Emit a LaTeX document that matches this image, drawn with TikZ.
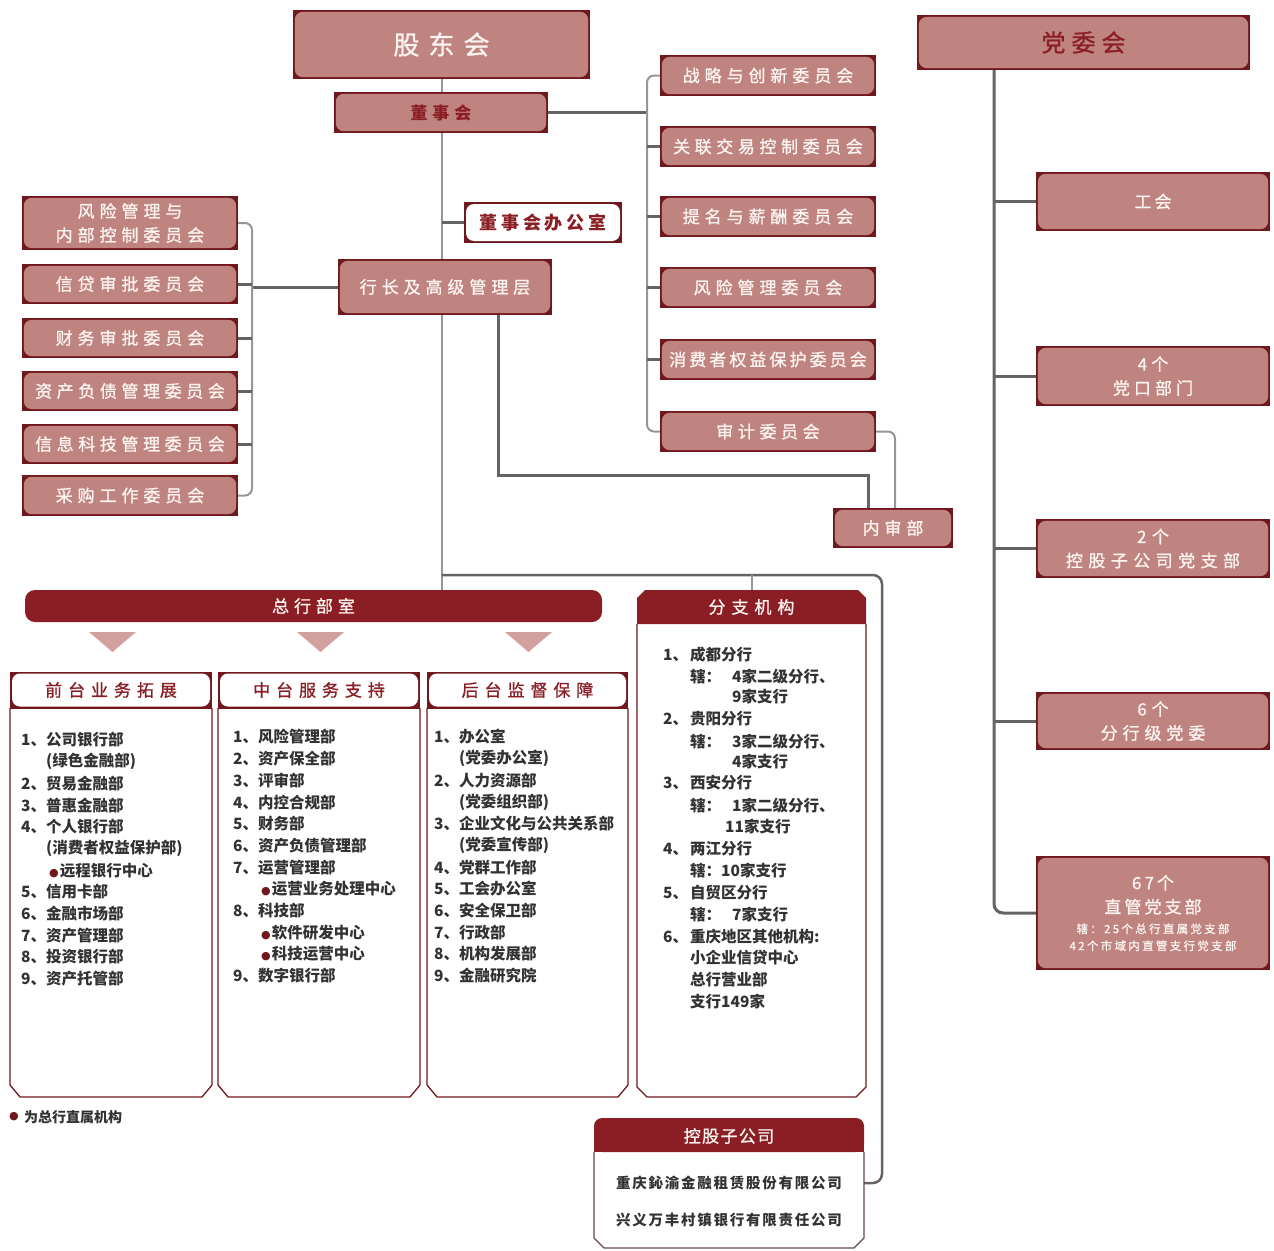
\documentclass[tikz,border=0pt]{standalone}
\usepackage{fontspec}
\setmainfont{Noto Sans CJK SC}
\newfontfamily\bxf{Noto Sans CJK SC}[FakeBold=1.0]
\newfontfamily\lsf{Noto Sans CJK SC}
\newfontfamily\dvf{DejaVu Sans}
\usetikzlibrary{calc}
\definecolor{rose}{RGB}{192,132,128}
\definecolor{dkc}{RGB}{112,24,30}
\definecolor{bar}{RGB}{138,30,36}
\definecolor{tri}{RGB}{210,160,158}
\definecolor{boxtxt}{RGB}{252,244,240}
\definecolor{lg}{RGB}{150,150,150}
\definecolor{dg}{RGB}{100,100,100}
\definecolor{lst}{RGB}{50,50,50}
\newcommand\LS[1]{\addfontfeature{LetterSpace=#1}}
\newlength\numw
\setlength\numw{25pt}
\newcommand\lnum[2]{\makebox[\numw][l]{#1}#2}
\newcommand\lsubl[1]{\hspace*{\numw}#1}
\newcommand\lbul[1]{\hspace*{\numw}\kern3pt{\color{dkc}\dvf\mdseries\fontsize{11}{11}\selectfont ●}\kern1pt #1}
\pgfdeclarelayer{back}
\pgfdeclarelayer{bg}
\pgfsetlayers{back,bg,main}
\tikzset{
  lnthin/.style={draw=lg, line width=2pt},
  lnthick/.style={draw=dg, line width=3pt},
  rosebox/.style={fill=dkc, inner sep=0pt, outer sep=0pt, text=boxtxt, align=center,
    font=\bxf\fontsize{17}{24}\selectfont,
    path picture={\fill[rose, rounded corners=8pt]
      ([xshift=1.8pt,yshift=-1.8pt]path picture bounding box.north west) rectangle
      ([xshift=-1.8pt,yshift=1.8pt]path picture bounding box.south east);}},
  whitebox/.style={fill=dkc, inner sep=0pt, outer sep=0pt, text=bar, align=center,
    font=\bxf\fontsize{17}{24}\selectfont,
    path picture={\fill[white, rounded corners=8pt]
      ([xshift=2pt,yshift=-2pt]path picture bounding box.north west) rectangle
      ([xshift=-2pt,yshift=2pt]path picture bounding box.south east);}},
  lsttxt/.style={anchor=west, inner sep=0pt, text=lst, font=\lsf\bfseries\fontsize{15.5}{18}\selectfont},
  hdtxt/.style={inner sep=0pt, outer sep=0pt, text=boxtxt, font=\bxf\fontsize{17}{24}\selectfont},
}
\begin{document}
\begin{tikzpicture}[x=1pt,y=-1pt]
\begin{pgfonlayer}{back}
\fill[white] (0,0) rectangle (1274,1250);
\end{pgfonlayer}
\useasboundingbox (0,0) rectangle (1274,1250);

% top
\node[rosebox, minimum width=297pt, minimum height=69pt, font=\bxf\fontsize{26}{30}\selectfont] (gd) at (441.5,44.5) {\LS{35}股东会};
\node[rosebox, minimum width=214pt, minimum height=41pt, text=bar, font=\lsf\bfseries\fontsize{17}{24}\selectfont] (ds) at (441,112.5) {\LS{29}董事会};
\node[rosebox, minimum width=333pt, minimum height=55pt, text=bar, font=\bxf\fontsize{24}{28}\selectfont] (dw) at (1083.5,42.5) {\LS{25}党委会};
\node[whitebox, minimum width=158pt, minimum height=41pt, font=\lsf\bfseries\fontsize{18}{24}\selectfont] (dsb) at (543,222.5) {\LS{22}董事会办公室};
\node[rosebox, minimum width=214pt, minimum height=56pt] (hz) at (445,287) {\LS{29}行长及高级管理层};

% right committees
\node[rosebox, minimum width=216pt, minimum height=41pt] (c1) at (768,75.5) {\LS{29}战略与创新委员会};
\node[rosebox, minimum width=216pt, minimum height=41pt] (c2) at (768,146.5) {\LS{27}关联交易控制委员会};
\node[rosebox, minimum width=216pt, minimum height=41pt] (c3) at (768,216.5) {\LS{29}提名与薪酬委员会};
\node[rosebox, minimum width=216pt, minimum height=41pt] (c4) at (768,287.5) {\LS{29}风险管理委员会};
\node[rosebox, minimum width=216pt, minimum height=41pt] (c5) at (768,359.5) {\LS{18}消费者权益保护委员会};
\node[rosebox, minimum width=216pt, minimum height=41pt] (c6) at (768,431.5) {\LS{27}审计委员会};
\node[rosebox, minimum width=120pt, minimum height=40pt] (nsb) at (893,528) {\LS{29}内审部};

% left committees
\node[rosebox, minimum width=216pt, minimum height=54pt] (L1) at (130,223) {\LS{29}风险管理与\\\LS{29}内部控制委员会};
\node[rosebox, minimum width=216pt, minimum height=40pt] (L2) at (130,284) {\LS{29}信贷审批委员会};
\node[rosebox, minimum width=216pt, minimum height=40pt] (L3) at (130,338) {\LS{29}财务审批委员会};
\node[rosebox, minimum width=216pt, minimum height=40pt] (L4) at (130,391) {\LS{27}资产负债管理委员会};
\node[rosebox, minimum width=216pt, minimum height=40pt] (L5) at (130,444) {\LS{27}信息科技管理委员会};
\node[rosebox, minimum width=216pt, minimum height=41pt] (L6) at (130,495.5) {\LS{29}采购工作委员会};

% party column
\node[rosebox, minimum width=234pt, minimum height=59pt] (p1) at (1153,201.5) {\LS{18}工会};
\node[rosebox, minimum width=234pt, minimum height=60pt] (p2) at (1153,376) {\LS{24}4个\\\LS{24}党口部门};
\node[rosebox, minimum width=234pt, minimum height=59pt] (p3) at (1153,548.5) {\LS{32}2个\\\LS{32}控股子公司党支部};
\node[rosebox, minimum width=234pt, minimum height=58pt] (p4) at (1153,721) {\LS{29}6个\\\LS{29}分行级党委};
\node[rosebox, minimum width=234pt, minimum height=114pt] (p5) at (1153,913) {\LS{18}67个\\\LS{18}直管党支部\\[-4pt]{\fontsize{11.5}{15}\selectfont\LS{20}辖：25个总行直属党支部}\\[-7pt]{\fontsize{11.5}{15}\selectfont\LS{20}42个市域内直管支行党支部}};

% head office bar
\node[fill=bar, rounded corners=10pt, minimum width=577pt, minimum height=32pt, inner sep=0pt, outer sep=0pt, text=boxtxt, font=\bxf\fontsize{17}{24}\selectfont] (zb) at (313.5,606) {\LS{29}总行部室};
\fill[tri] (89,632) -- (136,632) -- (112.5,652) -- cycle;
\fill[tri] (297,632) -- (344,632) -- (320.5,652) -- cycle;
\fill[tri] (505,632) -- (552,632) -- (528.5,652) -- cycle;

% columns
\foreach \xa/\xb in {10/212, 218/420, 427/628}{
  \draw[dkc, line width=1.3pt] (\xa,708) -- (\xa,1085) -- ({\xa+10},1097) -- ({\xb-10},1097) -- (\xb,1085) -- (\xb,708);
}
\node[whitebox, minimum width=202pt, minimum height=37pt] (h1) at (111,690) {\LS{35}前台业务拓展};
\node[whitebox, minimum width=202pt, minimum height=37pt] (h2) at (319,690) {\LS{35}中台服务支持};
\node[whitebox, minimum width=201pt, minimum height=37pt] (h3) at (527.5,690) {\LS{35}后台监督保障};

\foreach \t [count=\i] in {\lnum{1、}{公司银行部}, \lsubl{(绿色金融部)}, \lnum{2、}{贸易金融部},
  \lnum{3、}{普惠金融部}, \lnum{4、}{个人银行部}, \lsubl{(消费者权益保护部)}, \lbul{远程银行中心},
  \lnum{5、}{信用卡部}, \lnum{6、}{金融市场部}, \lnum{7、}{资产管理部}, \lnum{8、}{投资银行部},
  \lnum{9、}{资产托管部}}
  \node[lsttxt] (a\i) at (21,{740+21.7*(\i-1)}) {\t};
\foreach \t [count=\i] in {\lnum{1、}{风险管理部}, \lnum{2、}{资产保全部}, \lnum{3、}{评审部},
  \lnum{4、}{内控合规部}, \lnum{5、}{财务部}, \lnum{6、}{资产负债管理部}, \lnum{7、}{运营管理部},
  \lbul{运营业务处理中心}, \lnum{8、}{科技部}, \lbul{软件研发中心}, \lbul{科技运营中心},
  \lnum{9、}{数字银行部}}
  \node[lsttxt] (b\i) at (233,{737+21.7*(\i-1)}) {\t};
\foreach \t [count=\i] in {\lnum{1、}{办公室}, \lsubl{(党委办公室)}, \lnum{2、}{人力资源部},
  \lsubl{(党委组织部)}, \lnum{3、}{企业文化与公共关系部}, \lsubl{(党委宣传部)}, \lnum{4、}{党群工作部},
  \lnum{5、}{工会办公室}, \lnum{6、}{安全保卫部}, \lnum{7、}{行政部}, \lnum{8、}{机构发展部},
  \lnum{9、}{金融研究院}}
  \node[lsttxt] (d\i) at (434,{737+21.7*(\i-1)}) {\t};

% branches
\fill[bar] (637,624) -- (637,598) -- (645,590) -- (858,590) -- (866,598) -- (866,624) -- cycle;
\draw[dkc, line width=1.3pt] (637,624) -- (637,1087) -- (647,1097) -- (856,1097) -- (866,1087) -- (866,624);
\node[hdtxt, minimum width=229pt, minimum height=34pt] (fz) at (751.5,607) {\LS{35}分支机构};
\foreach \x/\y/\t [count=\i] in {663/655/1、, 690/655/成都分行, 690/677/辖：, 732/677/4家二级分行、,
  732/697/9家支行, 663/719/2、, 690/719/贵阳分行, 690/742/辖：, 732/742/3家二级分行、, 732/762/4家支行,
  663/783/3、, 690/783/西安分行, 690/806/辖：, 732/806/1家二级分行、, 725/827/11家支行,
  663/849/4、, 690/849/两江分行, 690/871/辖：10家支行, 663/893/5、, 690/893/自贸区分行,
  690/915/辖：, 732/915/7家支行, 663/937/6、, 690/937/重庆地区其他机构:, 690/958/小企业信贷中心,
  690/980/总行营业部, 690/1002/支行149家}
  \node[lsttxt] (f\i) at (\x,\y) {\t};

% subsidiaries
\fill[bar, rounded corners=8pt] (594,1118) rectangle (864,1152);
\fill[bar] (594,1136) rectangle (864,1152);
\draw[dg!60!dkc, line width=1.3pt] (594,1152) -- (594,1238) -- (604,1248) -- (854,1248) -- (864,1238) -- (864,1152);
\node[inner sep=0pt, outer sep=0pt, minimum width=270pt, minimum height=130pt] (kg) at (729,1183) {};
\node[hdtxt] (kgh) at (729,1136) {\LS{8}控股子公司};
\node[inner sep=0pt, text=lst, font=\lsf\bfseries\fontsize{14.5}{18}\selectfont] (kg1) at (729,1183) {\LS{12}重庆鈊渝金融租赁股份有限公司};
\node[inner sep=0pt, text=lst, font=\lsf\bfseries\fontsize{14.5}{18}\selectfont] (kg2) at (729,1220) {\LS{12}兴义万丰村镇银行有限责任公司};

% legend
\node[inner sep=0pt, text=dkc, font=\dvf\fontsize{11}{11}\selectfont] (lgd) at (14,1117) {●};
\node[lsttxt, font=\lsf\bfseries\fontsize{14}{18}\selectfont] (lgt) at (24,1117) {为总行直属机构};

% connectors
\coordinate (rbk) at (647,0);
\coordinate (lbk) at (252,0);
\coordinate (pv) at (994,0);
\begin{pgfonlayer}{bg}
\draw[lnthin] (gd.south) -- (gd.south |- zb.north);
\draw[lnthick] (gd.south |- dsb.west) -- (dsb.west);
\draw[lnthick] (ds.east) -- (ds.east -| rbk);
\draw[lnthin, rounded corners=7pt] (c1.west) -- (c1.west -| rbk) -- (c6.west -| rbk) -- (c6.west);
\foreach \n in {c2,c3,c4,c5} \draw[lnthick] (\n.west) -- (\n.west -| rbk);
\draw[lnthick] (hz.west) -- (hz.west -| lbk);
\draw[lnthin, rounded corners=7pt] (L1.east) -- (L1.east -| lbk) -- (L6.east -| lbk) -- (L6.east);
\foreach \n in {L2,L3,L4,L5} \draw[lnthick] (\n.east) -- (\n.east -| lbk);
\draw[lnthick] ([xshift=53pt]hz.south) -- ++(0,160) -| ([xshift=-25pt]nsb.north);
\draw[lnthin, rounded corners=7pt] (c6.east) -| ([xshift=2pt]nsb.north);
\draw[draw=dg, line width=2.5pt, rounded corners=9pt] ([yshift=15pt]gd.south |- zb.north) -| ($(kg.east)+(18,0)$) -- (kg.east);
\draw[lnthin] (fz.north) -- ++(0,-15);
\draw[lnthick, rounded corners=9pt] (dw.south -| pv) -- (p5.west -| pv) -- (p5.west);
\foreach \n in {p1,p2,p3,p4} \draw[lnthick] (\n.west -| pv) -- (\n.west);
\end{pgfonlayer}
\end{tikzpicture}
\end{document}
